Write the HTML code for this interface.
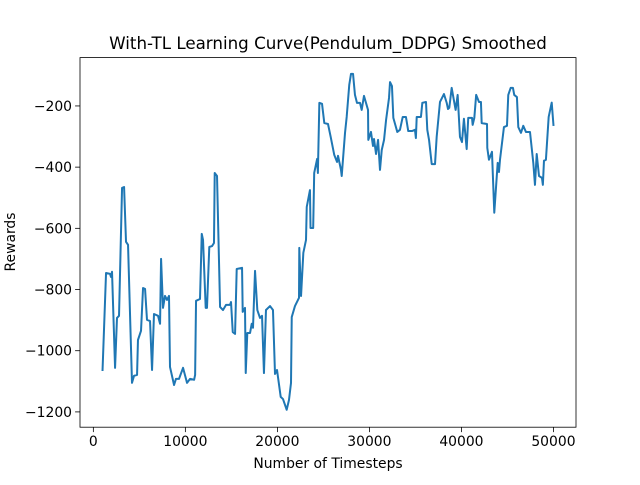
<!DOCTYPE html>
<html><head><meta charset="utf-8"><style>
html,body{margin:0;padding:0;background:#fff;}
svg text{font-family:"DejaVu Sans","Liberation Sans",sans-serif;fill:#000;}
</style></head><body>
<svg id="chart" width="640" height="480" viewBox="0 0 640 480" xmlns="http://www.w3.org/2000/svg">
<rect width="640" height="480" fill="#fff"/>
<text x="328" y="49" font-size="16.7" text-anchor="middle">With-TL Learning Curve(Pendulum_DDPG) Smoothed</text>
<text x="328" y="468" font-size="13.9" text-anchor="middle">Number of Timesteps</text>
<text x="0" y="0" font-size="13.9" text-anchor="middle" transform="translate(15,242) rotate(-90)">Rewards</text>
<g id="ticks"></g>
<g id="plot"></g>
<rect x="80" y="57.6" width="496" height="369.6" fill="none" stroke="#000" stroke-width="0.8"/>
</svg>
<script>
const timesteps=[1000,1380,1815,1920,2030,2360,2570,2790,3120,3340,3550,3770,4200,4420,4750,4850,5180,5400,5620,5830,6160,6380,6590,7030,7250,7360,7570,7790,8010,8220,8330,8770,8980,9310,9750,10180,10510,10950,11060,11160,11590,11780,11920,12210,12350,12600,12900,13110,13190,13440,13770,14090,14420,14850,14960,15150,15400,15580,16160,16230,16480,16560,16730,17030,17210,17350,17570,17820,18110,18330,18540,18760,19200,19520,19740,19960,20360,20610,21010,21260,21480,21560,21910,22350,22380,22570,22820,23110,23190,23540,23600,23890,24000,24320,24400,24560,24850,25100,25500,25790,26180,26480,26590,26910,26990,27350,27530,27810,28000,28220,28430,28650,28980,29160,29410,29850,29880,30170,30390,30500,30720,30940,31150,31340,31590,31810,32130,32240,32450,32600,33030,33320,33620,33970,34220,34630,34950,35050,35140,35600,35750,36150,36290,36480,36770,37130,37310,37670,38100,38400,38540,38680,38940,39370,39590,39840,40060,40270,40570,40740,41150,41220,41400,41600,41910,42120,42200,42780,42810,42990,43320,43570,43940,44080,44190,44620,44950,45090,45350,45600,45740,46030,46180,46470,46720,47010,47450,47810,47990,48180,48430,48750,48850,48970,49180,49480,49810,50000];
const rewards=[-1063,-746,-749,-759,-742,-1056,-893,-886,-468,-465,-644,-654,-1105,-1082,-1079,-965,-935,-795,-798,-899,-903,-1063,-880,-886,-912,-700,-860,-821,-834,-821,-1053,-1112,-1092,-1092,-1056,-1105,-1092,-1095,-1079,-837,-831,-618,-638,-860,-860,-661,-658,-648,-419,-429,-857,-867,-850,-850,-841,-939,-945,-733,-729,-873,-860,-1073,-942,-942,-912,-925,-739,-867,-893,-886,-1073,-867,-854,-867,-1076,-1063,-1151,-1158,-1193,-1161,-1105,-890,-854,-827,-664,-821,-680,-638,-530,-475,-599,-599,-419,-373,-419,-190,-193,-256,-259,-301,-360,-383,-363,-409,-429,-288,-236,-131,-95,-95,-164,-190,-190,-213,-167,-213,-311,-285,-331,-308,-357,-311,-409,-344,-311,-246,-174,-122,-135,-239,-285,-278,-236,-236,-282,-282,-278,-305,-236,-236,-190,-187,-278,-311,-390,-390,-301,-187,-161,-190,-210,-206,-141,-213,-164,-301,-318,-242,-341,-239,-239,-262,-239,-164,-187,-187,-256,-259,-337,-376,-350,-549,-386,-416,-376,-269,-265,-164,-141,-141,-164,-171,-269,-288,-265,-285,-285,-386,-458,-357,-429,-435,-458,-379,-376,-236,-189,-262];
const xTicks=[0,10000,20000,30000,40000,50000];
const yTicks=[-1200,-1000,-800,-600,-400,-200];
const yTickLabels=["\u22121200","\u22121000","\u2212800","\u2212600","\u2212400","\u2212200"];

const X0=80,X1=576,Y0=57.6,Y1=427.2;
const xmin=-1450,xmax=52450,ymin=-1250,ymax=-42;
function xs(v){return X0+(v-xmin)/(xmax-xmin)*(X1-X0);}
function ys(v){return Y1-(v-ymin)/(ymax-ymin)*(Y1-Y0);}
const NS="http://www.w3.org/2000/svg";
const tg=document.getElementById('ticks');
xTicks.forEach(function(t){
  const x=xs(t);
  const l=document.createElementNS(NS,'line');
  l.setAttribute('x1',x);l.setAttribute('x2',x);l.setAttribute('y1',Y1);l.setAttribute('y2',Y1+4.9);
  l.setAttribute('stroke','#000');l.setAttribute('stroke-width','0.8');
  
  
  tg.appendChild(l);
  const tx=document.createElementNS(NS,'text');
  tx.setAttribute('x',x);tx.setAttribute('y',Y1+19);tx.setAttribute('font-size','13.9');tx.setAttribute('text-anchor','middle');
  tx.textContent=String(t);
  
  
  tg.appendChild(tx);
});
yTicks.forEach(function(t,i){
  const y=ys(t);
  const l=document.createElementNS(NS,'line');
  l.setAttribute('x1',X0-4.9);l.setAttribute('x2',X0);l.setAttribute('y1',y);l.setAttribute('y2',y);
  l.setAttribute('stroke','#000');l.setAttribute('stroke-width','0.8');
  
  
  tg.appendChild(l);
  const tx=document.createElementNS(NS,'text');
  tx.setAttribute('x',X0-8);tx.setAttribute('y',y+5);tx.setAttribute('font-size','13.9');tx.setAttribute('text-anchor','end');
  tx.textContent=yTickLabels[i];
  
  
  tg.appendChild(tx);
});
const pg=document.getElementById('plot');
let d='';
timesteps.forEach(function(t,i){d+=(i?'L':'M')+xs(t).toFixed(2)+','+ys(rewards[i]).toFixed(2);});
const p=document.createElementNS(NS,'path');
p.setAttribute('d',d);p.setAttribute('fill','none');p.setAttribute('stroke','#1f77b4');
p.setAttribute('stroke-width','2');p.setAttribute('stroke-linejoin','round');p.setAttribute('stroke-linecap','square');


pg.appendChild(p);
</script>
</body></html>
